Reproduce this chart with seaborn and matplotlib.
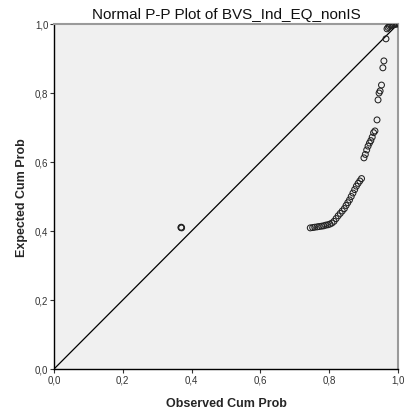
import matplotlib
matplotlib.use("Agg")
import matplotlib.pyplot as plt
import seaborn as sns
import pandas as pd
from matplotlib.ticker import FuncFormatter

title = "Normal P-P Plot of BVS_Ind_EQ_nonIS"
x_label = "Observed Cum Prob"
y_label = "Expected Cum Prob"
tick_values = [0.0, 0.2, 0.4, 0.6, 0.8, 1.0]

observed_cum = [0.369, 0.370, 0.371,
                0.745, 0.752, 0.758, 0.765, 0.771, 0.778, 0.784, 0.790, 0.796,
                0.802, 0.808, 0.814, 0.820, 0.826, 0.832, 0.838, 0.844, 0.849,
                0.854, 0.859, 0.864, 0.869, 0.874, 0.879, 0.884, 0.889, 0.894,
                0.901, 0.905, 0.909, 0.913, 0.917, 0.921, 0.925, 0.929, 0.933,
                0.939, 0.942, 0.945, 0.948, 0.952, 0.956, 0.959, 0.965, 0.968,
                0.971, 0.975, 0.979, 0.983, 0.987, 0.991, 0.995, 0.998]
expected_cum = [0.410, 0.411, 0.409,
                0.409, 0.410, 0.411, 0.412, 0.413, 0.414, 0.415, 0.417, 0.418,
                0.420, 0.423, 0.428, 0.436, 0.444, 0.451, 0.458, 0.465, 0.474,
                0.482, 0.490, 0.500, 0.510, 0.520, 0.530, 0.538, 0.545, 0.552,
                0.612, 0.622, 0.635, 0.646, 0.655, 0.662, 0.672, 0.685, 0.690,
                0.722, 0.780, 0.800, 0.806, 0.823, 0.873, 0.893, 0.957, 0.986,
                0.990, 0.993, 0.995, 0.997, 0.998, 0.999, 1.000, 1.000]

df = pd.DataFrame({"obs": observed_cum, "exp": expected_cum})

sns.set_style("white")
plt.rcParams["font.family"] = ["Liberation Sans", "DejaVu Sans"]

fig = plt.figure(figsize=(4.18, 4.14), dpi=100)
ax = fig.add_axes([54/418, 44/414, 344/418, 345/414])
ax.set_facecolor("#f0f0f0")

ax.plot([0, 1], [0, 1], color="black", linewidth=0.9, zorder=2)
sns.scatterplot(data=df, x="obs", y="exp", ax=ax, marker="o", s=18,
                facecolors="none", edgecolor="#222222", linewidth=0.75, zorder=3)

ax.set_xlim(0, 1)
ax.set_ylim(0, 1)
ax.set_xticks(tick_values)
ax.set_yticks(tick_values)
fmt = FuncFormatter(lambda v, p: f"{v:.1f}".replace(".", ","))
ax.xaxis.set_major_formatter(fmt)
ax.yaxis.set_major_formatter(fmt)
ax.tick_params(axis="both", direction="out", length=3, width=0.8,
               labelsize=7, colors="#333333", pad=1, bottom=True, left=True)

for side in ["left", "bottom"]:
    ax.spines[side].set_color("black")
    ax.spines[side].set_linewidth(1.0)
for side in ["top", "right"]:
    ax.spines[side].set_color("#9a9a9a")
    ax.spines[side].set_linewidth(1.5)

ax.set_xlabel(x_label, fontsize=9, fontweight="bold", labelpad=9)
ax.set_ylabel(y_label, fontsize=9, fontweight="bold", labelpad=5)
ax.set_title(title, fontsize=11, pad=4, color="#111111")

fig.savefig("out.png", dpi=100)
